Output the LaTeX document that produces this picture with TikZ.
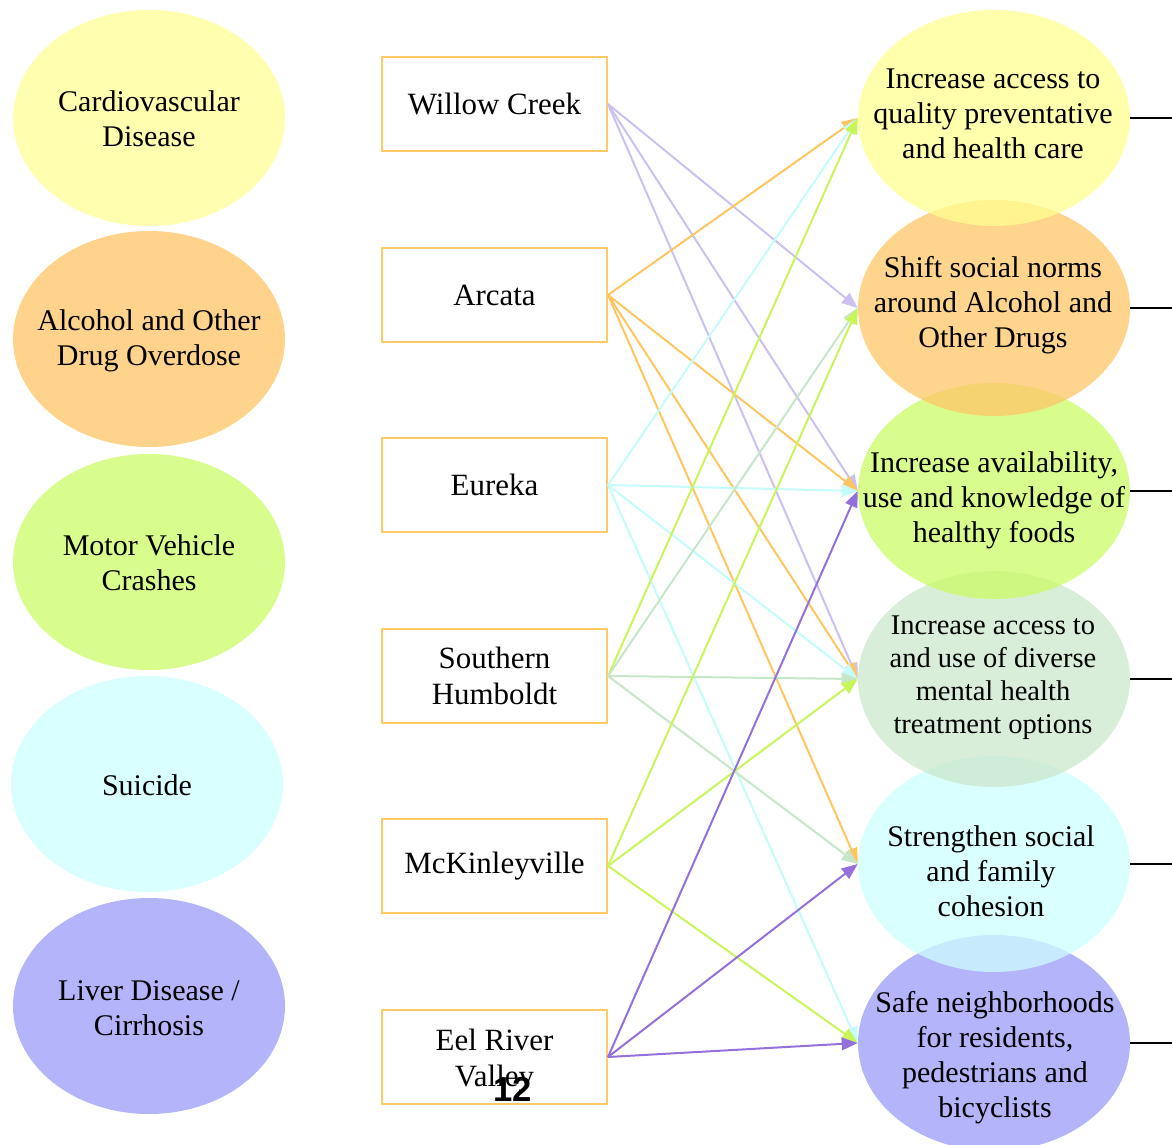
\documentclass[tikz,border=0pt]{standalone}
\usepackage{fontspec}
\setmainfont{Liberation Serif}
\newfontfamily\pagenofont{Liberation Sans}
\usetikzlibrary{shapes.geometric,arrows.meta}

% visible fills of the outcome ellipses (left column)
\definecolor{cyellow}{RGB}{255,255,175}
\definecolor{corange}{RGB}{255,211,140}
\definecolor{clime}{RGB}{216,253,140}
\definecolor{cmint}{RGB}{216,238,216}
\definecolor{ccyan}{RGB}{218,255,255}
\definecolor{clav}{RGB}{180,180,250}
% base fills of the strategy ellipses, drawn translucent
\definecolor{tyellow}{RGB}{255,255,144}
\definecolor{torange}{RGB}{255,197,102}
\definecolor{tlime}{RGB}{203,252,102}
\definecolor{tmint}{RGB}{203,232,203}
\definecolor{tcyan}{RGB}{206,255,255}
\definecolor{tlav}{RGB}{155,155,248}
% box outline and connector colours
\definecolor{boxorange}{RGB}{255,201,102}
\definecolor{alav}{RGB}{204,192,240}
\definecolor{aorange}{RGB}{255,198,96}
\definecolor{acyan}{RGB}{196,252,252}
\definecolor{alime}{RGB}{200,245,90}
\definecolor{amint}{RGB}{198,230,200}
\definecolor{apurple}{RGB}{147,112,219}

\begin{document}
\begin{tikzpicture}[x=0.75pt,y=-0.75pt,
  txt/.style={align=center, inner sep=0pt,
    font=\fontsize{22.5pt}{26.25pt}\selectfont},
  smalltxt/.style={align=center, inner sep=0pt,
    font=\fontsize{21.4pt}{24.75pt}\selectfont},
  boxtxt/.style={align=center, inner sep=0pt,
    font=\fontsize{23.2pt}{26.5pt}\selectfont},
  outcome/.style={ellipse, minimum width=204pt, minimum height=162pt, inner sep=0pt},
  goal/.style={ellipse, minimum width=204pt, minimum height=162pt, inner sep=0pt, fill opacity=0.75},
  region/.style={rectangle, draw=boxorange, line width=1.5pt, fill=white,
    minimum width=168.75pt, minimum height=70.5pt, inner sep=0pt, align=center,
    font=\fontsize{23.2pt}{26.5pt}\selectfont},
  link/.style={line width=1.5pt, -{Triangle[length=12pt,width=9.5pt]}},
  tail/.style={line width=1.4pt, black}]

\useasboundingbox (0,0) rectangle (1172,1145);
\coordinate (edge) at (1172,0);

% ---- health outcomes (left column)
\node[outcome, fill=cyellow] (o1) at (149,118)  {};
\node[outcome, fill=corange] (o2) at (149,339)  {};
\node[outcome, fill=clime]   (o3) at (149,562)  {};
\node[outcome, fill=ccyan]   (o4) at (147,784)  {};
\node[outcome, fill=clav]    (o5) at (149,1006) {};
\node[txt] (o1t) at (149,119)  {Cardiovascular\\Disease};
\node[txt] (o2t) at (149,341)  {Alcohol and Other\\Drug Overdose};
\node[txt] (o3t) at (149,563)  {Motor Vehicle\\Crashes};
\node[txt] (o4t) at (147,785)  {Suicide};
\node[txt] (o5t) at (149,1008) {Liver Disease /\\Cirrhosis};

% ---- strategies (right column), lower ones first so upper ones overlap them
\node[goal, fill=tlav]    (g6) at (994,1043) {};
\node[goal, fill=tcyan]   (g5) at (994,864)  {};
\node[goal, fill=tmint]   (g4) at (994,679)  {};
\node[goal, fill=tlime]   (g3) at (994,491)  {};
\node[goal, fill=torange] (g2) at (994,308)  {};
\node[goal, fill=tyellow] (g1) at (994,118)  {};
\node[txt] (g1t) at (993,114)  {Increase access to\\quality preventative\\and health care};
\node[txt] (g2t) at (993,305)  {Shift social norms\\around Alcohol and\\Other Drugs};
\node[txt] (g3t) at (994,500)  {Increase availability,\\use and knowledge of\\healthy foods};
\node[smalltxt] (g4t) at (993,678) {Increase access to\\and use of diverse\\mental health\\treatment options};
\node[txt] (g5t) at (991,871)  {Strengthen social\\and family\\cohesion};
\node[txt] (g6t) at (995,1058) {Safe neighborhoods\\for residents,\\pedestrians and\\bicyclists};

% ---- communities (middle column)
\node[region] (r1) at (494.5,104)  {Willow Creek};
\node[region] (r2) at (494.5,295)  {Arcata};
\node[region] (r3) at (494.5,485)  {Eureka};
\node[region] (r4) at (494.5,676)  {Southern\\Humboldt};
\node[region] (r5) at (494.5,866)  {McKinleyville};
\node[region] (r6) at (494.5,1057) {};
\node[boxtxt] (r6t) at (494.5,1061) {Eel River\\Valley};

% ---- community-to-strategy links
\foreach \g in {g2,g3,g4} \draw[link, alav] (r1.east) -- (\g.west);
\foreach \g in {g1,g3,g4,g5} \draw[link, aorange] (r2.east) -- (\g.west);
\foreach \g in {g1,g3,g4,g6} \draw[link, acyan] (r3.east) -- (\g.west);
\draw[link, alime] (r4.east) -- (g1.west);
\foreach \g in {g2,g4,g5} \draw[link, amint] (r4.east) -- (\g.west);
\foreach \g in {g2,g4,g6} \draw[link, alime] (r5.east) -- (\g.west);
\foreach \g in {g3,g5,g6} \draw[link, apurple] (r6.east) -- (\g.west);

% ---- lines leaving the strategies to the right
\foreach \g in {g1,g2,g3,g4,g5,g6} \draw[tail] (\g.east) -- (\g.east -| edge);

% ---- page number
\node[inner sep=0pt, font=\pagenofont\bfseries\fontsize{26pt}{30pt}\selectfont] (pageno) at (513,1089) {12};

\end{tikzpicture}
\end{document}
